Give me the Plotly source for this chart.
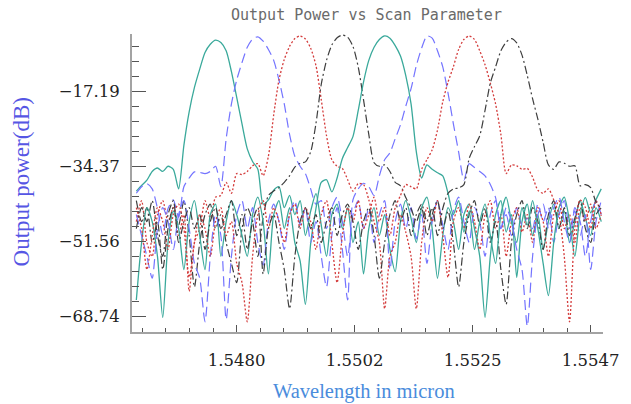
import plotly.graph_objects as go

# Sampled wavelength grid (micron)
WAVELENGTH_UM = [
    1.5461, 1.5462, 1.5463, 1.5464, 1.5465, 1.5466, 1.5467, 1.5468, 1.5469, 1.5470,
    1.5471, 1.5472, 1.5473, 1.5474, 1.5475, 1.5476, 1.5477, 1.5478, 1.5479, 1.5480,
    1.5481, 1.5482, 1.5483, 1.5484, 1.5485, 1.5486, 1.5487, 1.5488, 1.5489, 1.5490,
    1.5491, 1.5492, 1.5493, 1.5494, 1.5495, 1.5496, 1.5497, 1.5498, 1.5499, 1.5500,
    1.5501, 1.5502, 1.5503, 1.5504, 1.5505, 1.5506, 1.5507, 1.5508, 1.5509, 1.5510,
    1.5511, 1.5512, 1.5513, 1.5514, 1.5515, 1.5516, 1.5517, 1.5518, 1.5519, 1.5520,
    1.5521, 1.5522, 1.5523, 1.5524, 1.5525, 1.5526, 1.5527, 1.5528, 1.5529, 1.5530,
    1.5531, 1.5532, 1.5533, 1.5534, 1.5535, 1.5536, 1.5537, 1.5538, 1.5539, 1.5540,
    1.5541, 1.5542, 1.5543, 1.5544, 1.5545, 1.5546, 1.5547, 1.5548, 1.5549,
]

# Output power (dB) of each scanned channel
CH1_SOLID = [
    -40.0, -38.7, -37.5, -35.5, -34.7, -35.5, -34.3, -35.0, -39.5, -29.5,
    -21.8, -16.2, -12.0, -8.2, -6.3, -5.35, -5.9, -7.8, -12.6, -18.5,
    -24.6, -30.3, -33.2, -35.0, -43.0, -42.0, -39.8, -39.0, -43.8, -41.0,
    -45.4, -42.2, -50.2, -44.6, -40.6, -47.8, -55.0, -45.4, -43.0, -48.6,
    -43.8, -51.8, -47.0, -59.0, -48.6, -43.8, -50.2, -45.4, -53.4, -58.5,
    -47.0, -42.2, -46.2, -51.8, -43.8, -41.4, -48.6, -60.0, -50.2, -43.8,
    -47.0, -53.4, -45.4, -43.0, -48.6, -55.0, -69.0, -55.0, -45.4, -42.2,
    -49.4, -45.4, -59.8, -47.0, -43.0, -50.2, -45.4, -53.4, -47.0, -43.0,
    -48.6, -44.6, -51.8, -47.0, -42.2, -46.2, -50.2, -43.8, -47.0,
]
CH2_DASH = [
    -40.5, -39.0, -38.3, -39.5, -44.0, -50.0, -44.0, -42.0, -46.0, -39.0,
    -37.0, -35.6, -35.7, -36.0, -35.5, -34.3, -39.0, -28.0, -20.0, -14.5,
    -10.5, -7.0, -5.1, -4.6, -5.6, -7.5, -10.0, -14.5, -20.0, -27.0,
    -32.0, -34.3, -36.0, -39.5, -43.0, -42.2, -48.6, -43.8, -41.4, -47.0,
    -55.0, -45.4, -42.2, -48.6, -43.8, -51.8, -45.4, -42.2, -58.0, -47.0,
    -43.0, -48.6, -43.8, -51.0, -45.4, -56.6, -47.0, -42.2, -47.8, -53.4,
    -44.6, -41.4, -47.0, -51.8, -43.8, -47.0, -55.0, -45.4, -42.2, -48.6,
    -45.4, -50.2, -43.8, -47.8, -46.2, -48.6, -43.0, -47.0, -43.8, -51.8,
    -45.4, -42.2, -48.6, -44.6, -50.2, -45.4, -58.0, -47.0, -42.2,
]
CH3_DOT = [
    -47.0, -42.2, -51.8, -55.0, -45.4, -42.2, -47.0, -43.8, -50.2, -45.4,
    -63.0, -51.8, -48.6, -42.2, -46.2, -41.4, -41.0, -38.0, -40.5, -36.0,
    -36.2, -35.5, -34.2, -33.7, -36.5, -32.0, -22.5, -14.5, -9.8, -6.8,
    -5.0, -4.4, -5.1, -7.2, -11.2, -19.0, -27.3, -32.8, -34.3, -34.8,
    -37.4, -40.0, -38.3, -38.5, -42.0, -47.0, -51.8, -67.0, -55.0, -51.8,
    -45.4, -49.4, -55.0, -67.0, -51.8, -43.8, -47.0, -42.2, -50.2, -59.8,
    -47.0, -43.8, -48.6, -43.0, -47.0, -53.4, -45.4, -42.2, -48.6, -45.4,
    -55.0, -47.0, -43.8, -49.4, -45.4, -51.8, -43.8, -47.0, -55.0, -45.4,
    -42.2, -48.6, -45.4, -51.8, -43.8, -47.0, -43.0, -48.6, -45.4,
]
CH4_DASHDOT = [
    -42.2, -47.0, -43.8, -51.8, -47.0, -58.0, -48.6, -43.8, -47.8, -42.2,
    -50.2, -62.0, -51.8, -45.4, -43.0, -48.6, -45.4, -51.8, -56.6, -61.0,
    -48.6, -43.8, -47.0, -55.0, -46.0, -41.0, -40.0, -39.2, -38.0, -36.5,
    -34.5, -33.6, -33.3, -31.0, -24.5, -15.5, -10.0, -6.5, -4.8, -4.2,
    -4.7, -6.8, -11.5, -19.0, -27.0, -33.5, -34.3, -34.0, -35.5, -38.0,
    -38.8, -41.5, -44.0, -47.0, -43.8, -50.2, -45.4, -42.2, -48.6, -44.6,
    -51.8, -62.0, -51.8, -45.4, -42.2, -47.8, -43.8, -51.8, -47.0, -58.0,
    -66.0, -51.8, -45.4, -42.2, -48.6, -43.8, -47.0, -53.4, -45.4, -42.2,
    -48.6, -43.8, -50.2, -46.2, -42.2, -48.6, -51.8, -45.4, -43.8,
]
CH5_SOLID = [
    -65.0, -51.8, -43.8, -47.0, -55.0, -69.0, -51.8, -44.6, -48.6, -58.0,
    -47.0, -42.2, -50.2, -58.0, -45.4, -43.0, -55.0, -47.0, -42.2, -45.4,
    -50.2, -55.0, -45.4, -41.4, -47.0, -59.0, -45.4, -42.2, -48.6, -43.8,
    -51.8, -56.0, -66.0, -52.0, -44.0, -38.0, -37.4, -40.2, -37.0, -32.5,
    -30.0, -27.5, -21.5, -15.0, -10.0, -7.0, -5.2, -4.4, -4.9, -6.6,
    -9.0, -13.5, -20.0, -31.0, -37.0, -34.0, -35.0, -35.8, -36.5, -40.5,
    -45.4, -42.2, -49.4, -44.6, -53.4, -47.0, -43.0, -50.2, -56.6, -45.4,
    -41.4, -47.0, -51.8, -43.8, -47.8, -42.2, -48.6, -56.6, -64.0, -51.8,
    -43.8, -41.4, -47.0, -55.0, -45.4, -41.5, -45.0, -42.0, -39.5,
]
CH6_DASH = [
    -45.4, -50.2, -55.0, -60.0, -48.6, -43.8, -47.0, -53.4, -45.4, -42.2,
    -48.6, -56.6, -60.0, -70.0, -55.0, -45.4, -50.2, -69.5, -55.0, -45.4,
    -42.2, -48.6, -43.8, -51.8, -57.0, -47.0, -43.0, -47.0, -53.4, -45.4,
    -42.2, -47.8, -43.8, -51.8, -47.0, -55.0, -62.0, -50.2, -43.8, -53.4,
    -65.0, -42.0, -39.5, -38.2, -39.0, -41.0, -36.5, -32.8, -31.2, -28.0,
    -24.8, -20.5, -16.5, -11.2, -7.2, -4.4, -4.9, -7.8, -11.5, -17.5,
    -24.5, -31.0, -37.5, -33.7, -34.6, -35.5, -36.5, -38.5, -41.5, -48.6,
    -43.8, -47.0, -53.4, -58.0, -71.0, -55.0, -45.4, -43.0, -48.6, -43.8,
    -41.4, -47.0, -51.8, -43.8, -47.0, -55.0, -47.0, -42.2, -45.4,
]
CH7_DOT = [
    -43.8, -48.6, -58.0, -50.2, -43.8, -47.0, -53.4, -45.4, -43.0, -48.6,
    -59.8, -51.8, -45.4, -48.6, -55.0, -47.0, -43.8, -50.2, -47.0, -56.6,
    -61.0, -70.0, -55.0, -45.4, -42.2, -48.6, -43.8, -47.0, -51.8, -45.4,
    -43.0, -48.6, -43.8, -47.0, -53.4, -45.4, -42.2, -51.8, -61.0, -50.2,
    -43.8, -47.0, -42.2, -48.6, -45.4, -41.4, -47.0, -43.8, -50.2, -43.8,
    -41.0, -38.5, -39.0, -39.5, -35.0, -32.8, -30.5, -26.0, -19.5, -15.0,
    -11.5, -7.5, -5.2, -4.4, -5.2, -7.8, -11.0, -15.2, -20.0, -27.0,
    -36.0, -34.0, -34.2, -35.0, -34.8, -36.8, -39.8, -40.5, -39.5, -42.0,
    -45.4, -55.0, -70.0, -48.6, -42.0, -43.8, -48.6, -42.2, -45.4,
]
CH8_DASHDOT = [
    -48.6, -43.8, -47.0, -42.2, -50.2, -55.0, -45.4, -42.2, -51.8, -47.0,
    -43.8, -48.6, -45.4, -53.4, -47.0, -43.8, -48.6, -45.4, -42.2, -50.2,
    -45.4, -53.4, -47.0, -43.8, -59.0, -48.6, -45.4, -51.8, -58.0, -67.0,
    -55.0, -47.0, -43.8, -48.6, -45.4, -51.8, -47.0, -43.8, -50.2, -45.4,
    -43.0, -47.0, -53.4, -47.0, -43.8, -50.2, -60.0, -51.8, -45.4, -42.2,
    -47.0, -43.8, -50.2, -45.4, -43.0, -47.0, -43.8, -50.2, -44.0, -40.5,
    -39.5, -39.3, -38.5, -32.5, -29.8, -27.3, -21.5, -15.2, -11.5, -7.8,
    -5.8, -5.0, -6.0, -8.8, -13.5, -18.8, -23.5, -28.8, -34.0, -35.0,
    -33.3, -33.6, -34.3, -34.2, -38.8, -38.5, -39.2, -42.5, -44.0,
]

X_TICK_VALUES = [1.54800, 1.550233, 1.552467, 1.55470]
X_TICK_LABELS = ["1.5480", "1.5502", "1.5525", "1.5547"]
Y_TICK_VALUES = [-17.186, -34.372, -51.558, -68.744]
Y_TICK_LABELS = ["\u221217.19", "\u221234.37", "\u221251.56", "\u221268.74"]

TEAL = "#3aa99b"
PERIWINKLE = "#7474ff"
BRICK = "#d43c3c"
CHARCOAL = "#3e3e3e"

traces = [
    (CH1_SOLID, TEAL, "solid", 1.3),
    (CH2_DASH, PERIWINKLE, "10px,5px", 1.2),
    (CH3_DOT, BRICK, "2px,2px", 1.3),
    (CH4_DASHDOT, CHARCOAL, "8px,3px,2px,3px", 1.2),
    (CH5_SOLID, TEAL, "solid", 1.3),
    (CH6_DASH, PERIWINKLE, "10px,5px", 1.2),
    (CH7_DOT, BRICK, "2px,2px", 1.3),
    (CH8_DASHDOT, CHARCOAL, "8px,3px,2px,3px", 1.2),
]

fig = go.Figure()
for values, color, dash, width in traces:
    fig.add_trace(go.Scatter(
        x=WAVELENGTH_UM, y=values, mode="lines",
        line=dict(color=color, dash=dash, width=width, shape="spline", smoothing=0.7),
        showlegend=False, hoverinfo="skip",
    ))

axis_line = "#a3a3a3"
tick_color = "#555555"
tick_font = dict(family="DejaVu Serif", size=16.5, color="#222222")

fig.update_layout(
    width=631, height=404,
    margin=dict(l=132, r=20, t=34, b=72),
    paper_bgcolor="white", plot_bgcolor="white",
    showlegend=False,
    xaxis=dict(
        range=[1.546018, 1.554933],
        showgrid=False, zeroline=False,
        showline=True, linecolor=axis_line, linewidth=2,
        tickmode="array", tickvals=X_TICK_VALUES, ticktext=X_TICK_LABELS,
        ticks="inside", ticklen=7, tickwidth=1, tickcolor=tick_color,
        tickfont=tick_font, ticklabelstandoff=12,
        minor=dict(tickmode="linear", tick0=1.5480, dtick=0.00044667,
                   ticks="inside", ticklen=4, tickwidth=1, tickcolor=tick_color,
                   showgrid=False),
    ),
    yaxis=dict(
        range=[-72.34, -3.95],
        showgrid=False, zeroline=False,
        showline=True, linecolor=axis_line, linewidth=2,
        tickmode="array", tickvals=Y_TICK_VALUES, ticktext=Y_TICK_LABELS,
        ticks="inside", ticklen=14, tickwidth=1, tickcolor=tick_color,
        tickfont=tick_font, ticklabelstandoff=7,
        minor=dict(tickmode="linear", tick0=-17.186, dtick=3.4372,
                   ticks="inside", ticklen=7, tickwidth=1, tickcolor=tick_color,
                   showgrid=False),
    ),
    annotations=[
        dict(text="Output Power vs Scan Parameter", xref="paper", yref="paper",
             x=0.497, y=1.0654, xanchor="center", yanchor="middle", showarrow=False,
             font=dict(family="DejaVu Sans Mono", size=15, color="#6a6a6a")),
        dict(text="Wavelength in micron", xref="paper", yref="paper",
             x=0.4927, y=-0.198, xanchor="center", yanchor="middle", showarrow=False,
             font=dict(family="Liberation Serif", size=20.5, color="#4a8cdc")),
        dict(text="Output power(dB)", xref="paper", yref="paper",
             x=-0.2338, y=0.505, xanchor="center", yanchor="middle", showarrow=False,
             textangle=-90,
             font=dict(family="Liberation Serif", size=23, color="#5656e4")),
    ],
)

fig.write_html("out.html")
